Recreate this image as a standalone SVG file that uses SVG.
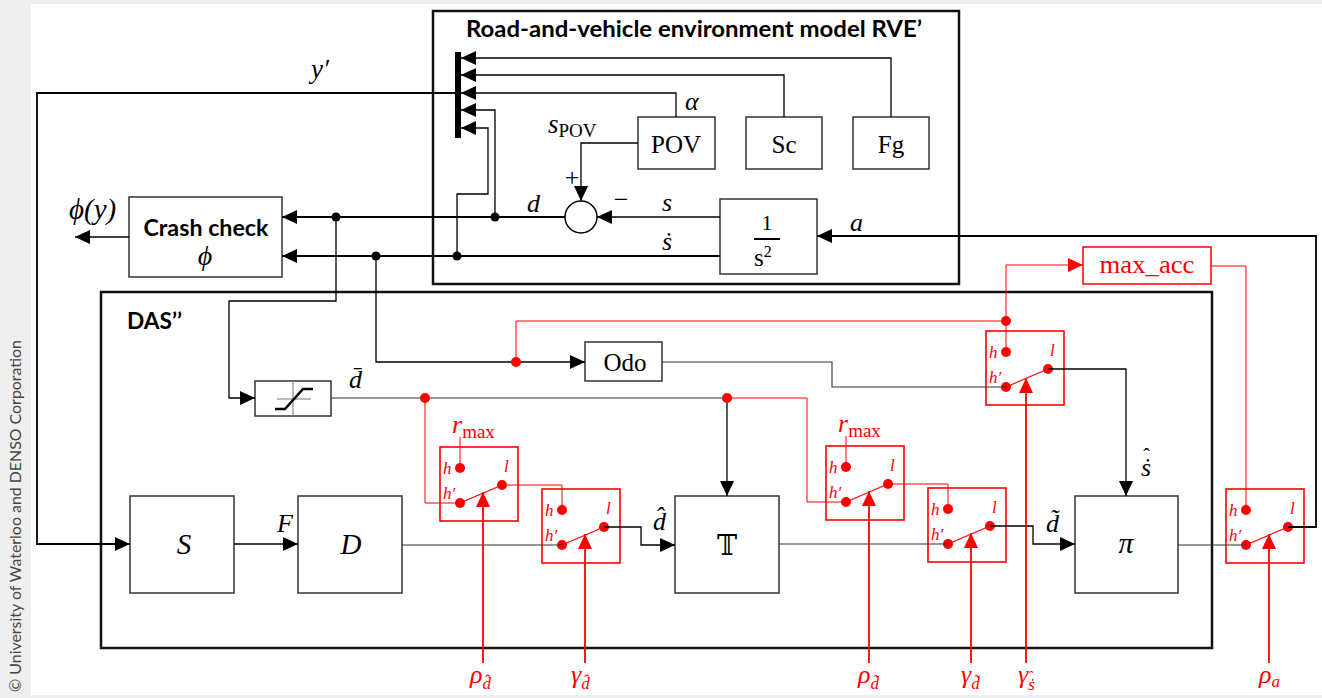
<svg xmlns="http://www.w3.org/2000/svg" width="1322" height="698" viewBox="0 0 1322 698">
<defs>
<marker id="ah" viewBox="0 0 15 14" refX="15" refY="7" markerWidth="15" markerHeight="14" markerUnits="userSpaceOnUse" orient="auto"><path d="M0,0L15,7L0,14z" fill="#000"/></marker>
<marker id="ahr" viewBox="0 0 15 14" refX="15" refY="7" markerWidth="15" markerHeight="14" markerUnits="userSpaceOnUse" orient="auto"><path d="M0,0L15,7L0,14z" fill="#f00"/></marker>
</defs>
<style>
.blk{fill:#fff;stroke:#333;stroke-width:1.5}
.frame{fill:none;stroke:#111;stroke-width:2.5}
.sw rect{fill:none;stroke:#f00;stroke-width:1.6}
.sw circle{fill:#f00}
.sw line{stroke:#f00;stroke-width:1.2}
.c{fill:none;stroke:#000;stroke-width:1.3}
.t{fill:none;stroke:#000;stroke-width:1.8}
.g{fill:none;stroke:#333;stroke-width:1.1}
.r{fill:none;stroke:#f00;stroke-width:1}
.rv{fill:none;stroke:#f00;stroke-width:1.8}
.m{font-family:'Liberation Serif','DejaVu Serif',serif;font-style:italic;font-size:26px;fill:#000}
.u{font-family:'Liberation Serif','DejaVu Serif',serif;font-size:25px;fill:#000}
.b{font-family:Lato,'Open Sans',sans-serif;font-weight:bold;font-size:22px;fill:#000}
.sl{font-family:'Liberation Serif','DejaVu Serif',serif;font-style:italic;font-size:17px;fill:#f00}
.red{fill:#f00}
.mid{text-anchor:middle}
.hat{font-style:normal}
</style>
<rect x="0" y="0" width="1322" height="698" fill="#efefef"/>
<rect x="31" y="4" width="1291" height="691" fill="#fff"/>
<text transform="translate(21,692) rotate(-90)" font-family="Lato,'Open Sans',sans-serif" font-size="16" fill="#444" textLength="352" lengthAdjust="spacingAndGlyphs">© University of Waterloo and DENSO Corporation</text>

<g id="rve">
<rect class="frame" x="433" y="11" width="526" height="273"/>
<text class="b mid" x="694" y="37" textLength="456" lengthAdjust="spacingAndGlyphs">Road-and-vehicle environment model RVE’</text>
</g>
<g id="das">
<rect class="frame" x="101" y="292" width="1111" height="356"/>
<text class="b" x="127" y="329" textLength="55" lengthAdjust="spacingAndGlyphs">DAS’’</text>
</g>

<g id="mux"><rect x="455" y="52" width="6" height="86" fill="#000"/></g>
<g id="pov"><rect class="blk" x="638" y="117" width="77" height="52"/><text class="u mid" x="676" y="153">POV</text></g>
<g id="sc"><rect class="blk" x="746" y="117" width="76" height="52"/><text class="u mid" x="784" y="153">Sc</text></g>
<g id="fg"><rect class="blk" x="853" y="117" width="76" height="52"/><text class="u mid" x="891" y="153">Fg</text></g>
<g id="sum"><circle cx="581" cy="217" r="16" fill="#fff" stroke="#000" stroke-width="1.5"/>
<text class="u mid" x="572" y="186" style="font-size:26px">+</text><text class="u mid" x="621" y="208" style="font-size:26px">−</text></g>
<g id="integ"><rect class="blk" x="720" y="199" width="97" height="75"/>
<text class="u mid" x="767" y="230" style="font-size:22px">1</text>
<line x1="754" y1="239" x2="780" y2="239" stroke="#000" stroke-width="2"/>
<text class="u" x="754" y="266" style="font-size:25px">s<tspan dy="-9" style="font-size:16px">2</tspan></text></g>
<g id="crash"><rect class="blk" x="129" y="197" width="153" height="80"/>
<text class="b mid" x="206" y="236" textLength="125" lengthAdjust="spacingAndGlyphs">Crash check</text>
<text class="m mid" x="205" y="265" style="font-size:28px">ϕ</text></g>
<g id="sat"><rect class="blk" x="255" y="381" width="76" height="35"/>
<path d="M277,399H311M293,381V416" stroke="#777" stroke-width="1" fill="none"/>
<path d="M275,409H285L303,389H313" stroke="#000" stroke-width="2.5" fill="none"/></g>
<g id="odo"><rect class="blk" x="585" y="342" width="77" height="39"/><text class="u mid" x="625" y="371">Odo</text></g>
<g id="maxacc"><rect x="1083" y="247" width="128" height="37" fill="#fff" stroke="#f00" stroke-width="1.5"/><text class="u mid red" x="1147" y="273" textLength="95" lengthAdjust="spacingAndGlyphs">max_acc</text></g>
<g id="S"><rect class="blk" x="130" y="496" width="104" height="97"/><text class="m mid" x="184" y="554" style="font-size:29px">S</text></g>
<g id="D"><rect class="blk" x="298" y="496" width="104" height="97"/><text class="m mid" x="351" y="554" style="font-size:29px">D</text></g>
<g id="T"><rect class="blk" x="675" y="496" width="104" height="97"/><text class="mid" x="727" y="555" font-family="'DejaVu Serif','DejaVu Sans',serif" style="font-size:27px">𝕋</text></g>
<g id="pi"><rect class="blk" x="1075" y="496" width="103" height="97"/><text class="m mid" x="1126" y="553" style="font-size:30px">π</text></g>

<g id="sw1" class="sw" transform="translate(440,447)"><rect width="78" height="74"/><circle cx="20" cy="21" r="5"/><circle cx="20" cy="56" r="5"/><circle cx="62" cy="38" r="5"/><line x1="20" y1="56" x2="62" y2="38"/><text class="sl" x="3" y="27">h</text><text class="sl" x="3" y="52">h′</text><text class="sl" x="64" y="25">l</text></g>
<g id="sw2" class="sw" transform="translate(542,489)"><rect width="78" height="74"/><circle cx="20" cy="21" r="5"/><circle cx="20" cy="56" r="5"/><circle cx="62" cy="38" r="5"/><line x1="20" y1="56" x2="62" y2="38"/><text class="sl" x="3" y="27">h</text><text class="sl" x="3" y="52">h′</text><text class="sl" x="64" y="25">l</text></g>
<g id="sw3" class="sw" transform="translate(986,331)"><rect width="78" height="74"/><circle cx="20" cy="21" r="5"/><circle cx="20" cy="56" r="5"/><circle cx="62" cy="38" r="5"/><line x1="20" y1="56" x2="62" y2="38"/><text class="sl" x="3" y="27">h</text><text class="sl" x="3" y="52">h′</text><text class="sl" x="64" y="25">l</text></g>
<g id="sw4" class="sw" transform="translate(826,446)"><rect width="78" height="74"/><circle cx="20" cy="21" r="5"/><circle cx="20" cy="56" r="5"/><circle cx="62" cy="38" r="5"/><line x1="20" y1="56" x2="62" y2="38"/><text class="sl" x="3" y="27">h</text><text class="sl" x="3" y="52">h′</text><text class="sl" x="64" y="25">l</text></g>
<g id="sw5" class="sw" transform="translate(928,488)"><rect width="78" height="74"/><circle cx="20" cy="21" r="5"/><circle cx="20" cy="56" r="5"/><circle cx="62" cy="38" r="5"/><line x1="20" y1="56" x2="62" y2="38"/><text class="sl" x="3" y="27">h</text><text class="sl" x="3" y="52">h′</text><text class="sl" x="64" y="25">l</text></g>
<g id="sw6" class="sw" transform="translate(1226,489)"><rect width="78" height="74"/><circle cx="20" cy="21" r="5"/><circle cx="20" cy="56" r="5"/><circle cx="62" cy="38" r="5"/><line x1="20" y1="56" x2="62" y2="38"/><text class="sl" x="3" y="27">h</text><text class="sl" x="3" y="52">h′</text><text class="sl" x="64" y="25">l</text></g>

<g id="connectors">
<path class="t" d="M455,93H37V544H130" marker-end="url(#ah)"/>
<path class="c" d="M891,117V58H461" marker-end="url(#ah)"/>
<path class="c" d="M784,117V75H461" marker-end="url(#ah)"/>
<path class="c" d="M676,117V93H461" marker-end="url(#ah)"/>
<path class="c" d="M495,217V110H461" marker-end="url(#ah)"/>
<path class="c" d="M457,256V194H488V128H461" marker-end="url(#ah)"/>
<path class="c" d="M638,143H581V201" marker-end="url(#ah)"/>
<path class="c" d="M720,217H597" marker-end="url(#ah)"/>
<path class="t" d="M565,217H282" marker-end="url(#ah)"/>
<path class="t" d="M720,256H282" marker-end="url(#ah)"/>
<path class="t" d="M1288,527H1316V236H817" marker-end="url(#ah)"/>
<path class="c" d="M129,237H75" marker-end="url(#ah)"/>
<path class="c" d="M336,217V301H229V398H255" marker-end="url(#ah)"/>
<path class="c" d="M376,256V362H585" marker-end="url(#ah)"/>
<path class="g" d="M662,362H832V387H1006"/>
<path class="g" d="M331,398H727"/>
<path class="c" d="M727,398V496" marker-end="url(#ah)"/>
<path class="c" d="M234,544H298" marker-end="url(#ah)"/>
<path class="g" d="M402,545H562"/>
<path class="c" d="M604,527H641V545H675" marker-end="url(#ah)"/>
<path class="g" d="M779,544H948"/>
<path class="c" d="M990,526H1033V544H1075" marker-end="url(#ah)"/>
<path class="c" d="M1048,369H1126V496" marker-end="url(#ah)"/>
<path class="g" d="M1178,545H1246"/>
<circle cx="495" cy="217" r="4.5"/><circle cx="457" cy="256" r="4.5"/>
<circle cx="336" cy="217" r="4.5"/><circle cx="376" cy="256" r="4.5"/>
<path class="r" d="M425,398V503H460"/>
<path class="r" d="M727,398H807V502H846"/>
<path class="r" d="M502,485H562V510"/>
<path class="r" d="M888,484H948V509"/>
<path class="r" d="M516,362V321H1006V352"/>
<path class="r" d="M1006,321V265H1083" marker-end="url(#ahr)"/>
<path class="r" d="M1211,266H1246V510"/>
<path class="r" d="M460,437V468"/>
<path class="r" d="M846,436V467"/>
<path class="rv" d="M483,663V492" marker-end="url(#ahr)"/>
<path class="rv" d="M585,663V534" marker-end="url(#ahr)"/>
<path class="rv" d="M1026,663V378" marker-end="url(#ahr)"/>
<path class="rv" d="M869,663V491" marker-end="url(#ahr)"/>
<path class="rv" d="M971,663V533" marker-end="url(#ahr)"/>
<path class="rv" d="M1269,663V534" marker-end="url(#ahr)"/>
<g fill="#f00"><circle cx="425" cy="398" r="5"/><circle cx="727" cy="398" r="5"/><circle cx="516" cy="362" r="5"/><circle cx="1006" cy="321" r="5"/></g>
</g>

<g id="labels">
<text class="m" x="311" y="78" style="font-size:27px">y′</text>
<text class="m" x="69" y="219" style="font-size:29px">ϕ(y)</text>
<text class="m" x="685" y="110">α</text>
<text class="m" x="548" y="133" style="font-size:27px">s<tspan dy="4" style="font-size:19px;font-style:normal">POV</tspan></text>
<text class="m" x="527" y="212">d</text>
<text class="m" x="662" y="211">s</text>
<text class="m" x="662" y="250">ṡ</text>
<text class="m" x="850" y="231">a</text>
<text class="m" x="277" y="532">F</text>
<text class="m" x="349" y="388">d̄</text>
<text class="m" x="653" y="530">d̂</text>
<text class="m" x="1046" y="532">d̃</text>
<text class="m" x="1141" y="476">ṡ<tspan class="hat" dx="-8" dy="-13" style="font-size:20px">ˆ</tspan></text>
<text class="m red" x="452" y="433">r<tspan dy="5" style="font-size:19px;font-style:normal">max</tspan></text>
<text class="m red" x="838" y="432">r<tspan dy="5" style="font-size:19px;font-style:normal">max</tspan></text>
<text class="m red" x="470" y="683">ρ<tspan dy="6" style="font-size:17px">d̂</tspan></text>
<text class="m red" x="571" y="683">γ<tspan dy="6" style="font-size:17px">d̂</tspan></text>
<text class="m red" x="858" y="683">ρ<tspan dy="6" style="font-size:17px">d̃</tspan></text>
<text class="m red" x="961" y="683">γ<tspan dy="6" style="font-size:17px">d̃</tspan></text>
<text class="m red" x="1018" y="683">γ<tspan dy="7" style="font-size:17px">ṡ</tspan><tspan class="hat" dx="-6" dy="-9" style="font-size:14px">ˆ</tspan></text>
<text class="m red" x="1259" y="683">ρ<tspan dy="4" style="font-size:17px">a</tspan></text>
</g>
</svg>
